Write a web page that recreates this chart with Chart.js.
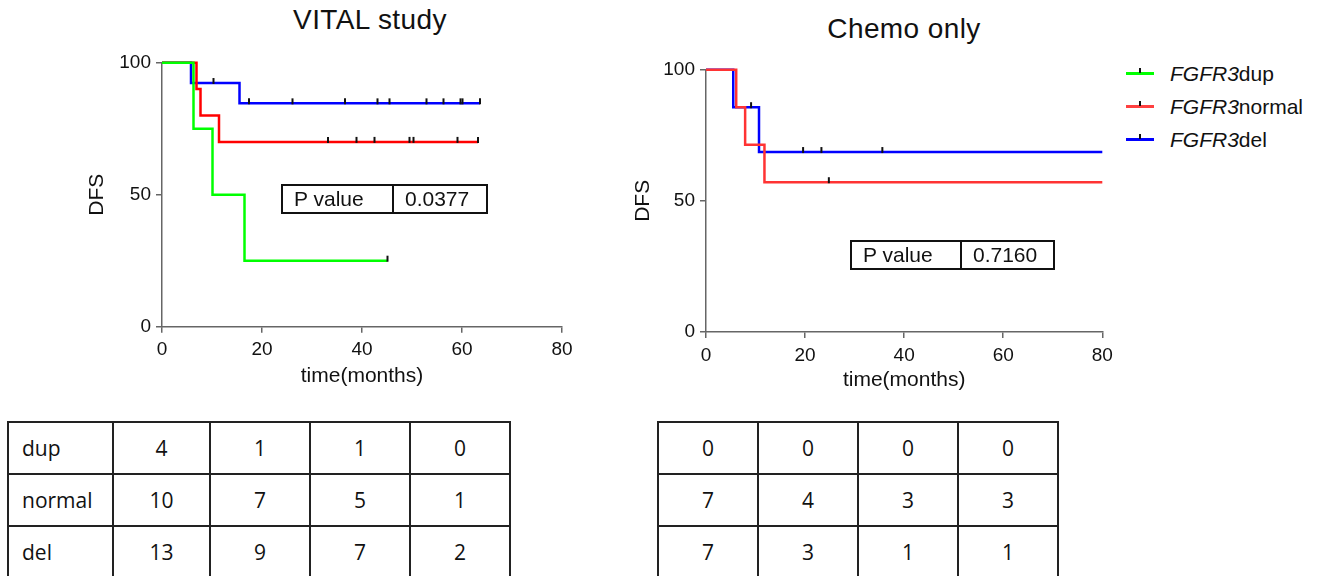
<!DOCTYPE html>
<html>
<head>
<meta charset="utf-8">
<script src="https://cdn.jsdelivr.net/npm/chart.js@4.4.1/dist/chart.umd.min.js"></script>
<style>
  html, body { margin: 0; padding: 0; background: #fff; }
  body { width: 1320px; height: 576px; overflow: hidden; position: relative; font-family: "Liberation Sans", Arial, sans-serif; color: #111; }
  canvas { position: absolute; top: 0; }
  .title { position: absolute; font-size: 28px; line-height: 28px; letter-spacing: 0.4px; transform: translateX(-50%); white-space: nowrap; }
  .pbox { position: absolute; display: flex; border: 2px solid #111; height: 30px; box-sizing: border-box; font-size: 21px; }
  .pbox span { display: flex; align-items: center; padding-left: 11px; box-sizing: border-box; }
  .pbox span:first-child { border-right: 2px solid #111; }
  .legend { position: absolute; left: 1126px; top: 57px; font-size: 21px; }
  .legend .row { height: 33px; display: flex; align-items: center; }
  .legend .swatch { width: 28px; height: 3px; position: relative; margin-right: 16px; }
  .legend .swatch::after { content: ''; position: absolute; left: 13px; top: -4px; width: 2px; height: 5px; background: #111; }
  .risk { position: absolute; top: 421px; display: grid; border-top: 2px solid #222; border-left: 2px solid #222; font-family: "Open Sans", sans-serif; font-size: 21px; }
  .risk div { height: 52px; box-sizing: border-box; border-right: 2px solid #222; border-bottom: 2px solid #222; display: flex; align-items: center; justify-content: center; }
  .risk div.lab { justify-content: flex-start; padding-left: 13px; }
</style>
</head>
<body>
<div class="title" style="left:370px; top:6px">VITAL study</div>
<div class="title" style="left:904px; top:15px">Chemo only</div>

<canvas id="vitalChart" width="500" height="400" style="left:85px"></canvas>
<canvas id="chemoChart" width="490" height="400" style="left:631px"></canvas>

<div class="pbox" style="left:281px; top:184px; width:207px"><span style="width:111px">P value</span><span>0.0377</span></div>
<div class="pbox" style="left:850px; top:240px; width:205px"><span style="width:110px">P value</span><span>0.7160</span></div>

<div class="legend" id="legend"></div>
<div class="risk" id="vitalRisk" style="left:7px; grid-template-columns: 105px 97px 100px 100px 100px"></div>
<div class="risk" id="chemoRisk" style="left:657px; grid-template-columns: 100px 100px 100px 100px"></div>

<script>
// axis ticks
const xTickValues = [0, 20, 40, 60, 80];
const yTickValues = [0, 50, 100];

// groups
const groupNames = ['dup', 'normal', 'del'];
const legendColors = ['#00ff00', '#ff4040', '#0000ff'];

// VITAL study - step points (months, DFS %) and censored times
const vitalDupTime = [0, 6.3, 10.1, 16.5, 45.1];
const vitalDupDFS = [100, 75, 50, 25, 25];
const vitalDupCensor = [45.1];

const vitalNormalTime = [0, 6.9, 7.7, 11.4, 63.2];
const vitalNormalDFS = [100, 90, 80, 70, 70];
const vitalNormalCensor = [33.2, 38.9, 42.5, 49.5, 50.3, 59.1, 63.2];

const vitalDelTime = [0, 5.8, 15.5, 63.6];
const vitalDelDFS = [100, 92.3, 84.6, 84.6];
const vitalDelCensor = [10.3, 17.4, 26.1, 36.6, 43.1, 45.5, 52.9, 56.3, 59.7, 60.1, 63.6];

// Chemo only
const chemoNormalTime = [0, 6.1, 7.9, 11.8, 80];
const chemoNormalDFS = [100, 85.7, 71.4, 57.1, 57.1];
const chemoNormalCensor = [24.8];

const chemoDelTime = [0, 5.5, 10.7, 80];
const chemoDelDFS = [100, 85.7, 68.6, 68.6];
const chemoDelCensor = [9.1, 19.6, 23.3, 35.6];

// numbers at risk
const vitalAtRisk = [[4, 1, 1, 0], [10, 7, 5, 1], [13, 9, 7, 2]];
const chemoAtRisk = [[0, 0, 0, 0], [7, 4, 3, 3], [7, 3, 1, 1]];

const axisColor = '#666';
const tickFont = { family: 'Liberation Sans', size: 19 };
const axisTitleFont = { family: 'Liberation Sans', size: 21 };

function survAt(points, t) {
    let y = points[0].y;
    points.forEach(p => { if (p.x <= t) y = p.y; });
    return y;
}

// small vertical marks for censored patients
const censorMarks = {
    id: 'censorMarks',
    afterDatasetsDraw(chart) {
        const { ctx, scales: { x, y } } = chart;
        ctx.save();
        ctx.strokeStyle = '#111';
        ctx.lineWidth = 2;
        chart.data.datasets.forEach(ds => {
            (ds.censor || []).forEach(t => {
                const px = x.getPixelForValue(t);
                const py = y.getPixelForValue(survAt(ds.data, t));
                ctx.beginPath();
                ctx.moveTo(px, py + 1);
                ctx.lineTo(px, py - 5);
                ctx.stroke();
            });
        });
        ctx.restore();
    }
};

function curve(time, dfs, censor, color) {
    return {
        data: time.map((t, i) => ({ x: t, y: dfs[i] })),
        censor: censor,
        borderColor: color,
        backgroundColor: color,
        borderWidth: 2.5,
        stepped: 'before',
        fill: false,
        pointRadius: 0,
        clip: 6
    };
}

function kmOptions(cfg) {
    return {
        responsive: false,
        animation: false,
        layout: { padding: { top: cfg.top, right: cfg.right, left: 0, bottom: 0 } },
        plugins: { legend: { display: false }, tooltip: { enabled: false }, title: { display: false } },
        scales: {
            x: {
                type: 'linear', min: 0, max: 80,
                afterBuildTicks: s => { s.ticks = xTickValues.map(v => ({ value: v })); },
                afterFit: s => { s.height = cfg.xHeight; },
                border: { color: axisColor, width: 1.5 },
                grid: { drawOnChartArea: false, tickLength: 6, color: axisColor, lineWidth: 1.5 },
                ticks: { color: '#111', padding: 6, font: tickFont, maxRotation: 0, autoSkip: false },
                title: { display: true, text: 'time(months)', color: '#111', font: axisTitleFont, padding: { top: 0, bottom: cfg.xTitlePad } }
            },
            y: {
                type: 'linear', min: 0, max: 100,
                afterBuildTicks: s => { s.ticks = yTickValues.map(v => ({ value: v })); },
                afterFit: s => { s.width = cfg.yWidth; },
                border: { color: axisColor, width: 1.5 },
                grid: { drawOnChartArea: false, tickLength: 6, color: axisColor, lineWidth: 1.5 },
                ticks: { color: '#111', padding: 5, font: tickFont },
                title: { display: true, text: 'DFS', color: '#111', font: axisTitleFont, padding: { top: 0, bottom: 0 } }
            }
        }
    };
}

new Chart(document.getElementById('vitalChart'), {
    type: 'line',
    data: {
        datasets: [
            curve(vitalDupTime, vitalDupDFS, vitalDupCensor, '#00ff00'),
            curve(vitalNormalTime, vitalNormalDFS, vitalNormalCensor, '#ff0000'),
            curve(vitalDelTime, vitalDelDFS, vitalDelCensor, '#0000ff')
        ]
    },
    options: kmOptions({ top: 62.7, right: 23, xHeight: 73.3, yWidth: 77, xTitlePad: 10.7 }),
    plugins: [censorMarks]
});

new Chart(document.getElementById('chemoChart'), {
    type: 'line',
    data: {
        datasets: [
            curve(chemoNormalTime, chemoNormalDFS, chemoNormalCensor, '#ff3333'),
            curve(chemoDelTime, chemoDelDFS, chemoDelCensor, '#0000ff')
        ]
    },
    options: kmOptions({ top: 69.7, right: 18.7, xHeight: 68, yWidth: 75, xTitlePad: 7.4 }),
    plugins: [censorMarks]
});

// legend
const legend = document.getElementById('legend');
groupNames.forEach((g, i) => {
    const row = document.createElement('div');
    row.className = 'row';
    row.innerHTML = `<span class="swatch" style="background:${legendColors[i]}"></span><span><i>FGFR3</i>${g}</span>`;
    legend.appendChild(row);
});

// numbers at risk tables
function fillRisk(el, rows, labels) {
    rows.forEach((r, i) => {
        if (labels) {
            const c = document.createElement('div');
            c.className = 'lab';
            c.textContent = labels[i];
            el.appendChild(c);
        }
        r.forEach(v => {
            const c = document.createElement('div');
            c.textContent = v;
            el.appendChild(c);
        });
    });
}
fillRisk(document.getElementById('vitalRisk'), vitalAtRisk, groupNames);
fillRisk(document.getElementById('chemoRisk'), chemoAtRisk, null);
</script>
</body>
</html>
